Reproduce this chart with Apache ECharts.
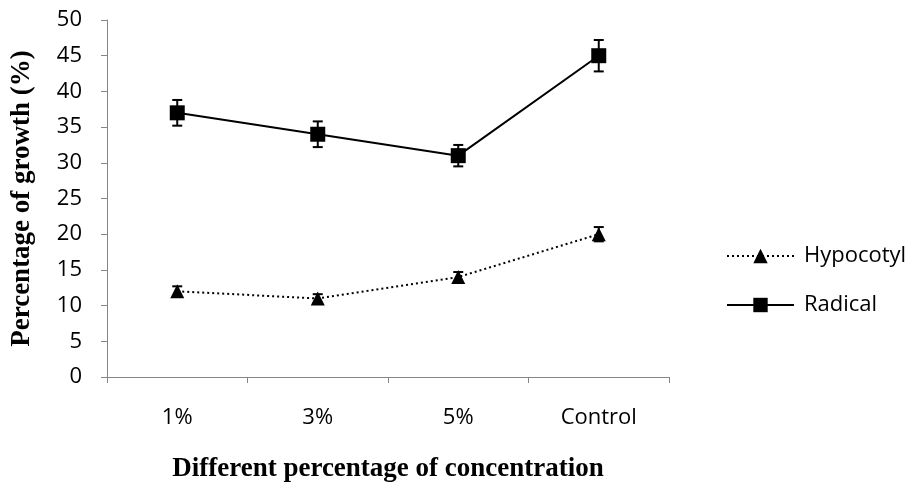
<!DOCTYPE html>
<html><head><meta charset="utf-8">
<script src="https://cdn.jsdelivr.net/npm/echarts@6/dist/echarts.min.js"></script>
<style>html,body{margin:0;padding:0;background:#fff}#c{width:916px;height:488px}</style>
</head><body><div id="c"></div>
<script>
const categories = ['1%', '3%', '5%', 'Control'];
const hypocotyl = [12, 11, 14, 20];
const hypocotylErr = [0.7, 0.6, 0.7, 1.0];
const radical = [37, 34, 31, 45];
const radicalErr = [1.8, 1.8, 1.5, 2.2];
const yTicks = [0, 5, 10, 15, 20, 25, 30, 35, 40, 45, 50];

const sansFont = 'Open Sans, Liberation Sans, sans-serif';
const serifFont = 'Liberation Serif, Times New Roman, serif';

function errSeries(vals, errs) {
  return {
    type: 'custom',
    silent: true,
    z: 1,
    data: vals.map((v, i) => [i, v - errs[i], v + errs[i]]),
    renderItem: function (params, api) {
      const lo = api.coord([api.value(0), api.value(1)]);
      const hi = api.coord([api.value(0), api.value(2)]);
      const w = 5;
      const st = { stroke: '#000', lineWidth: 2 };
      return { type: 'group', children: [
        { type: 'line', shape: { x1: lo[0], y1: lo[1], x2: hi[0], y2: hi[1] }, style: st },
        { type: 'line', shape: { x1: lo[0] - w, y1: lo[1], x2: lo[0] + w, y2: lo[1] }, style: st },
        { type: 'line', shape: { x1: hi[0] - w, y1: hi[1], x2: hi[0] + w, y2: hi[1] }, style: st }
      ]};
    }
  };
}

const chart = echarts.init(document.getElementById('c'), null, { renderer: 'canvas' });
chart.setOption({
  animation: false,
  backgroundColor: '#fff',
  grid: { left: 107, right: 247, top: 20, bottom: 111, containLabel: false },
  legend: {
    orient: 'vertical', left: 726, top: 245, padding: 0, itemGap: 27, itemWidth: 67, itemHeight: 18,
    textStyle: { fontFamily: sansFont, fontSize: 22, color: '#000', padding: [0, 0, 0, 5] },
    data: ['Hypocotyl', 'Radical']
  },
  xAxis: {
    type: 'category', data: categories, boundaryGap: true,
    axisLine: { lineStyle: { color: '#868686', width: 1 } },
    axisTick: { show: true, interval: 0, length: 6, lineStyle: { color: '#868686' } },
    axisLabel: { margin: 30, fontSize: 22, color: '#000', fontFamily: sansFont },
    name: 'Different percentage of concentration', nameLocation: 'middle', nameGap: 79,
    nameTextStyle: { fontFamily: serifFont, fontWeight: 'bold', fontSize: 27, color: '#000' }
  },
  yAxis: {
    type: 'value', min: yTicks[0], max: yTicks[yTicks.length - 1], interval: 5,
    axisLine: { show: true, lineStyle: { color: '#868686', width: 1 } },
    axisTick: { show: true, length: 6, inside: false, lineStyle: { color: '#868686' } },
    splitLine: { show: false },
    axisLabel: { margin: 25, fontSize: 22, color: '#000', fontFamily: sansFont },
    name: 'Percentage of growth (%)', nameLocation: 'middle', nameGap: 71,
    nameTextStyle: { fontFamily: serifFont, fontWeight: 'bold', fontSize: 27, color: '#000' }
  },
  series: [
    {
      name: 'Hypocotyl', type: 'line', data: hypocotyl, z: 3,
      symbol: 'triangle', symbolSize: 14,
      itemStyle: { color: '#000' },
      lineStyle: { color: '#000', width: 2, type: [2, 3] }
    },
    {
      name: 'Radical', type: 'line', data: radical, z: 3,
      symbol: 'rect', symbolSize: 15,
      itemStyle: { color: '#000' },
      lineStyle: { color: '#000', width: 2 }
    },
    errSeries(hypocotyl, hypocotylErr),
    errSeries(radical, radicalErr)
  ]
});
</script></body></html>
